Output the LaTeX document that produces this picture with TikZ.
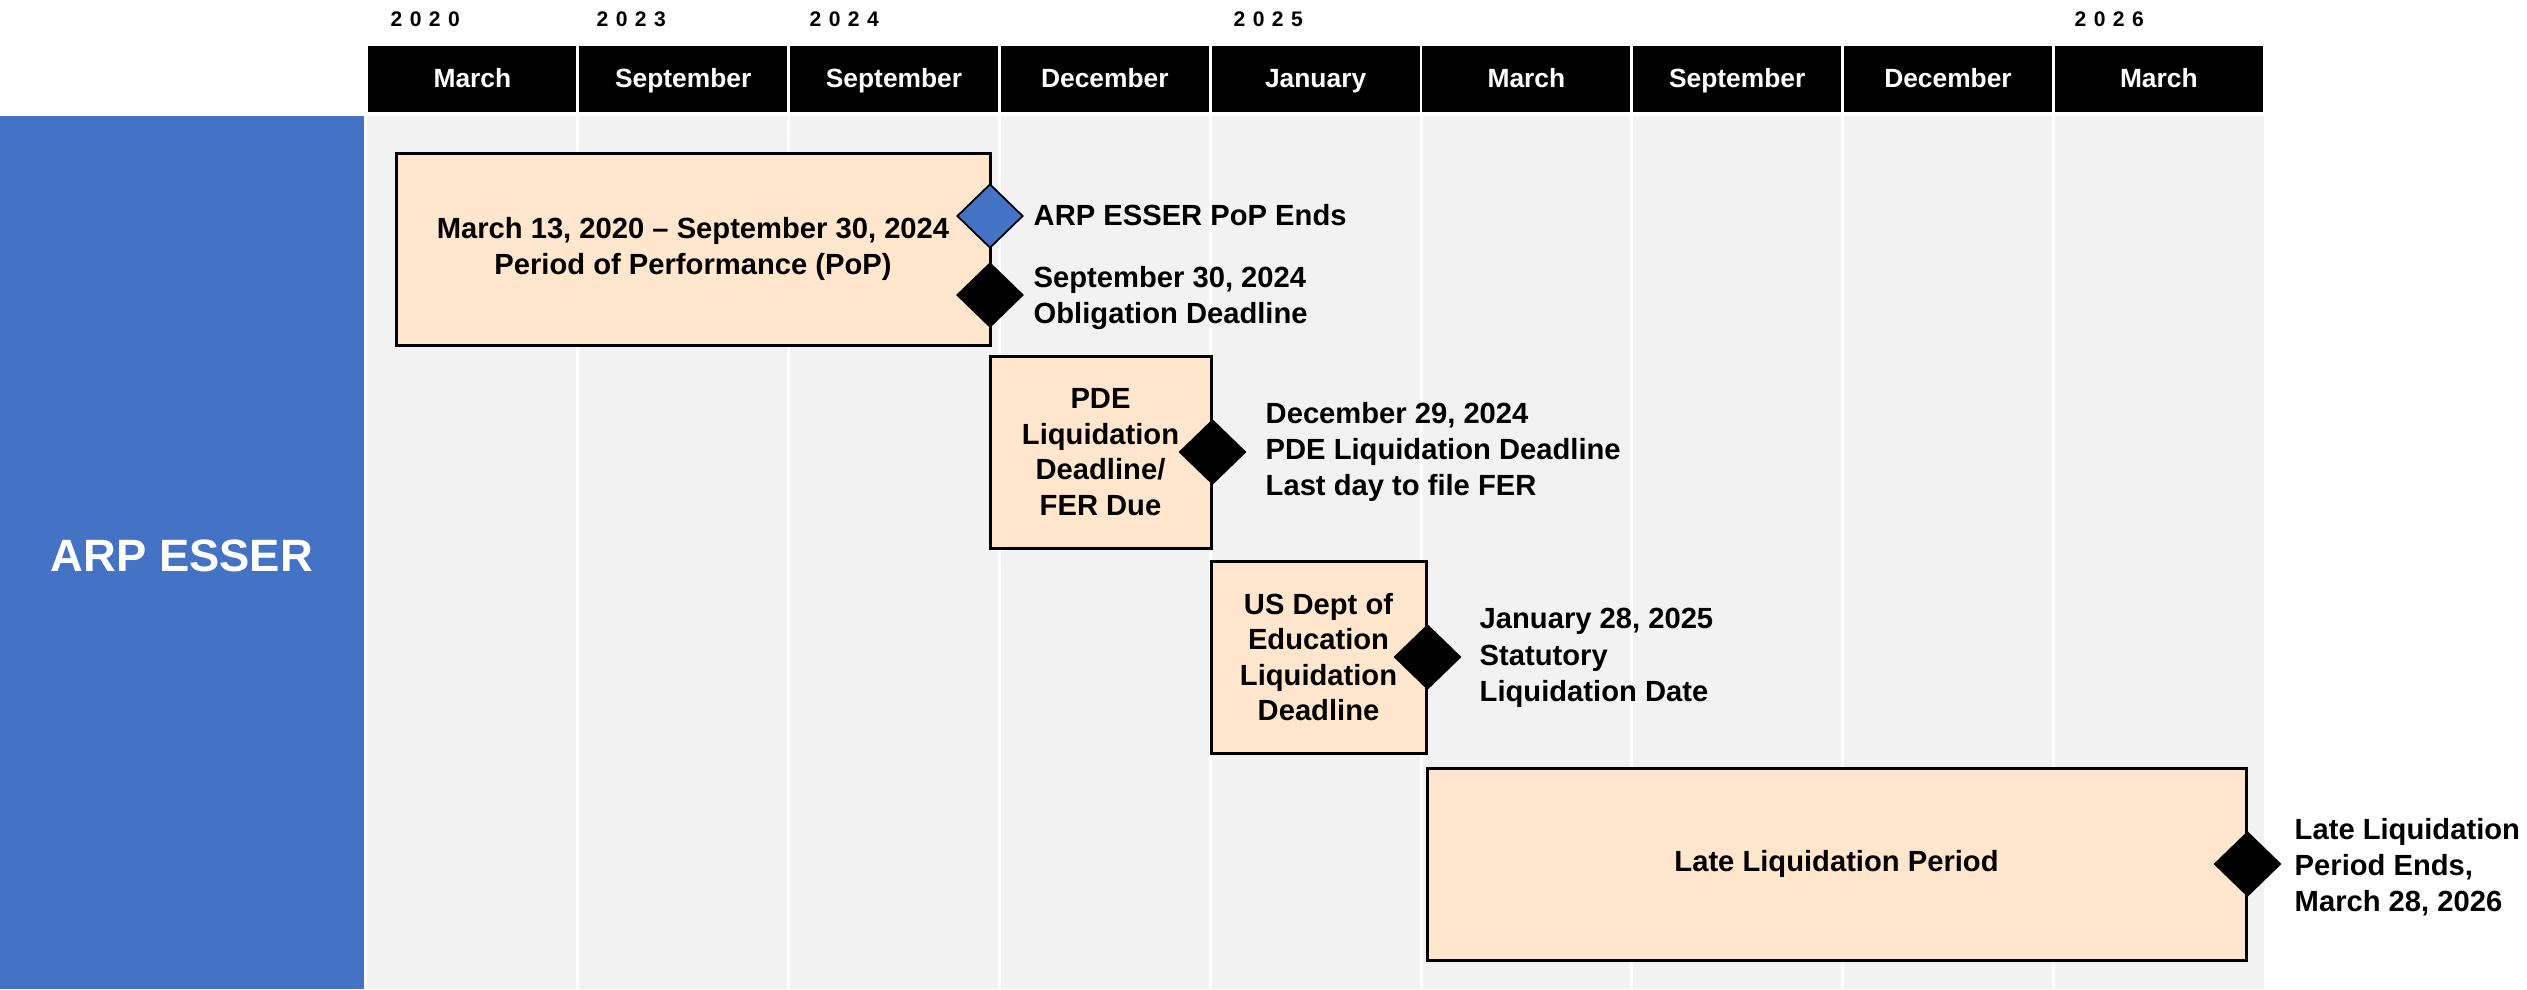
\documentclass[tikz,border=0pt]{standalone}
\usepackage{fontspec}
\setmainfont{Liberation Sans}
\usetikzlibrary{shapes.geometric}
\definecolor{esserblue}{HTML}{4472C4}
\definecolor{gridgray}{HTML}{F2F2F2}
\definecolor{peach}{HTML}{FFE6CC}
\tikzset{
    period/.style={draw=black, line width=0.03cm, fill=peach, align=center, inner sep=0pt,
        font=\bfseries\fontsize{8.3}{10.1}\selectfont},
    milestone/.style={diamond, draw=black, line width=0.5pt, fill=black, inner sep=0pt,
        minimum width=0.66cm, minimum height=0.64cm},
    note/.style={anchor=west, align=left, inner sep=0pt, font=\bfseries\fontsize{8.3}{10.3}\selectfont},
    month/.style={fill=black, text=white, inner sep=0pt, minimum width=2.08cm, minimum height=0.66cm,
        text height=1.4ex, text depth=0.5ex, font=\bfseries\fontsize{7.5}{9}\selectfont},
    year/.style={anchor=west, inner sep=0pt, font=\bfseries\fontsize{6}{7}\selectfont\addfontfeature{LetterSpace=35}}
}
\begin{document}
\begin{tikzpicture}
    \useasboundingbox (0,0) rectangle (25.27,-9.89);
    \fill[gridgray] (3.67,-1.16) rectangle (22.64,-9.89);
    \foreach \i in {1,...,8} {
        \draw[white, line width=0.03cm] ({3.67+2.108*\i},-1.16) -- ({3.67+2.108*\i},-9.89);
    }
    \fill[esserblue] (0,-1.16) rectangle (3.64,-9.89);
    \node[text=white, font=\bfseries\fontsize{12.9}{15}\selectfont] (arp) at (1.82,-5.56) {ARP ESSER};
    \foreach \m [count=\i] in {March, September, September, December, January, March, September, December, March} {
        \node[month] (m\i) at ({3.67+2.108*(\i-0.5)},-0.79) {\m};
    }
    \node[year] (y2020) at (3.90,-0.19) {2020};
    \node[year] (y2023) at (5.96,-0.19) {2023};
    \node[year] (y2024) at (8.09,-0.19) {2024};
    \node[year] (y2025) at (12.33,-0.19) {2025};
    \node[year] (y2026) at (20.74,-0.19) {2026};

    \node[period, minimum width=5.94cm, minimum height=1.92cm] (pop) at (6.93,-2.49)
        {March 13, 2020 -- September 30, 2024\\Period of Performance (PoP)};
    \node[period, minimum width=2.21cm, minimum height=1.92cm] (pde) at (11.005,-4.52)
        {PDE\\Liquidation\\Deadline/\\FER Due};
    \node[period, minimum width=2.15cm, minimum height=1.92cm] (usde) at (13.185,-6.57)
        {US Dept of\\Education\\Liquidation\\Deadline};
    \node[period, minimum width=8.19cm, minimum height=1.92cm] (late) at (18.365,-8.64)
        {Late Liquidation Period};

    \node[milestone, fill=esserblue] (popend) at (9.90,-2.16) {};
    \node[milestone] (oblig) at (9.90,-2.95) {};
    \node[milestone] (pdeend) at (pde.east) {};
    \node[milestone] (usdeend) at (usde.east) {};
    \node[milestone] (lateend) at (late.east) {};

    \node[note] (popnote) at (10.33,-2.15) {ARP ESSER PoP Ends};
    \node[note] (obnote) at (10.33,-2.98) {September 30, 2024\\Obligation Deadline};
    \node[note] (pdenote) at (12.65,-4.52) {December 29, 2024\\PDE Liquidation Deadline\\Last day to file FER};
    \node[note] (usdenote) at (14.79,-6.58) {January 28, 2025\\Statutory\\Liquidation Date};
    \node[note] (latenote) at (22.94,-8.67) {Late Liquidation\\Period Ends,\\March 28, 2026};
\end{tikzpicture}
\end{document}
